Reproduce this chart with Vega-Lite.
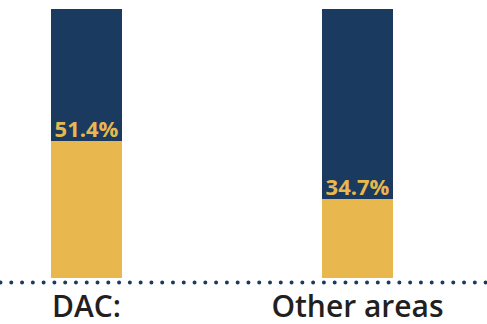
{
  "$schema": "https://vega.github.io/schema/vega-lite/v6.json",
  "width": 487,
  "height": 269,
  "autosize": {"type": "none"},
  "padding": {"top": 9, "left": 0, "right": 0, "bottom": 46},
  "background": "white",
  "config": {"view": {"stroke": null}},
  "data": {
    "values": [
      {"area": "DAC:", "part": "yes", "share": 50.9, "label": "51.4%"},
      {"area": "DAC:", "part": "no", "share": 49.1, "label": ""},
      {"area": "Other areas", "part": "yes", "share": 29.4, "label": "34.7%"},
      {"area": "Other areas", "part": "no", "share": 70.6, "label": ""}
    ]
  },
  "encoding": {
    "x": {
      "field": "area",
      "type": "nominal",
      "sort": ["DAC:", "Other areas"],
      "scale": {"paddingInner": 0.738, "paddingOuter": 0.2675, "align": 0.3517},
      "axis": {
        "title": null,
        "ticks": false,
        "labelAngle": 0,
        "labelFont": "Open Sans",
        "labelFontSize": 30,
        "labelFontWeight": 600,
        "labelColor": "#231f20",
        "labelPadding": 10,
        "offset": 4,
        "domainColor": "#1b3a5f",
        "domainWidth": 4,
        "domainCap": "round",
        "domainDash": [0, 10.78]
      }
    }
  },
  "layer": [
    {
      "mark": {"type": "bar"},
      "encoding": {
        "y": {"field": "share", "type": "quantitative", "stack": "zero", "scale": {"domain": [0, 100], "nice": false}, "axis": null},
        "color": {"field": "part", "type": "nominal", "scale": {"domain": ["yes", "no"], "range": ["#e8b84e", "#1b3a5f"]}, "legend": null}
      }
    },
    {
      "transform": [{"filter": "datum.part === 'yes'"}],
      "mark": {"type": "text", "font": "Open Sans", "fontSize": 22, "fontWeight": "bold", "color": "#e8b84e", "dy": -4, "baseline": "alphabetic"},
      "encoding": {
        "y": {"field": "share", "type": "quantitative"},
        "text": {"field": "label", "type": "nominal"}
      }
    }
  ]
}
